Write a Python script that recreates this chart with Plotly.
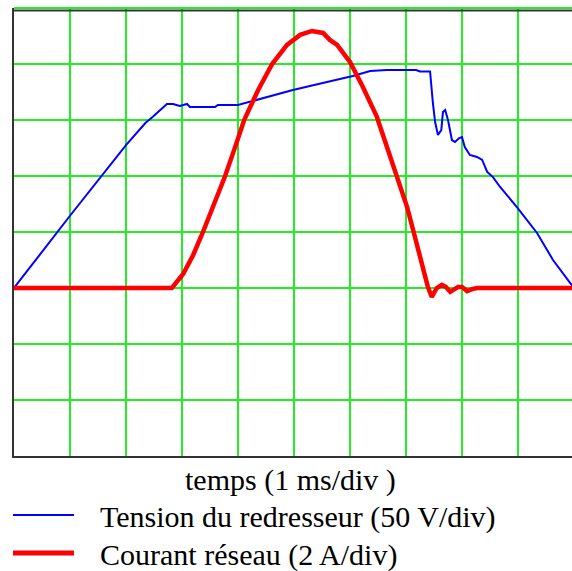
import plotly.graph_objects as go

# Rectifier output voltage (V) vs time (ms)
t_tension = [0.0, 1.0, 2.0, 2.35, 2.48, 2.61, 2.73, 2.84, 2.96, 3.09, 3.14, 3.59,
             3.64, 4.0, 4.39, 4.98, 5.59, 6.05, 6.36, 6.66, 7.18, 7.25, 7.43, 7.45, 7.48,
             7.52, 7.57, 7.63, 7.66, 7.70, 7.75, 7.82, 7.875, 7.95, 8.0, 8.05, 8.14, 8.27,
             8.36, 8.45, 8.55, 8.68, 8.98, 9.34, 9.625, 9.93, 10.0]
tension = [0.0, 64.5, 127.5, 147.5, 153.0, 158.5, 164.3, 164.3, 162.5, 164.3, 161.6,
           161.6, 163.4, 163.4, 168.8, 176.8, 183.9, 189.3, 193.8, 194.6, 194.6, 193.3,
           193.3, 181.3, 165.2, 148.2, 136.6, 141.0, 157.1, 158.9, 150.0, 132.1, 130.4,
           133.9, 134.8, 125.9, 118.8, 117.0, 114.3, 103.6, 99.1, 90.2, 72.3, 49.1, 25.0,
           4.5, 0.0]

# Mains current (A) vs time (ms)
t_courant = [0.0, 2.82, 3.02, 3.20, 3.375, 3.57, 3.77, 3.95, 4.11, 4.36, 4.61, 4.875, 5.11,
             5.32, 5.52, 5.64, 5.77, 6.0, 6.23, 6.48, 6.68, 6.86, 7.02, 7.16, 7.29, 7.39,
             7.46, 7.55, 7.64, 7.71, 7.79, 7.86, 7.93, 8.0, 8.09, 8.18, 8.27, 10.0]
courant = [0.0, 0.0, 0.5, 1.18, 2.0, 3.0, 4.0, 5.04, 6.0, 7.07, 8.0, 8.68, 9.04, 9.18,
           9.11, 8.86, 8.68, 8.07, 7.18, 6.11, 4.93, 3.86, 2.89, 1.82, 0.75, 0.04, -0.32,
           0.0, 0.11, 0.04, -0.14, -0.07, 0.04, 0.04, -0.11, -0.04, 0.0, 0.0]

# Scope settings
MS_PER_DIV = 1
V_PER_DIV = 50
A_PER_DIV = 2

legend_labels = ["Tension du redresseur (50 V/div)", "Courant réseau (2 A/div)"]
axis_label = "temps (1 ms/div )"

W, H = 572, 571
L, T = 14, 8
PLOT_H = 448
B = H - T - PLOT_H
DIV_PX = 56
x_max = (W - L) / DIV_PX * MS_PER_DIV

GRID = "#22ee22"
FRAME = "#333333"
FONT = "Liberation Serif, Times New Roman, serif"
FONT_SIZE = 30

fig = go.Figure()
fig.add_trace(go.Scatter(x=t_tension, y=tension, mode="lines",
                         line=dict(color="#0000ff", width=2), yaxis="y"))
fig.add_trace(go.Scatter(x=t_courant, y=courant, mode="lines",
                         line=dict(color="#ff0000", width=4.5), yaxis="y2"))

fig.update_layout(
    width=W, height=H,
    margin=dict(l=L, r=0, t=T, b=B),
    paper_bgcolor="white", plot_bgcolor="white",
    showlegend=False,
    xaxis=dict(range=[0, x_max], dtick=MS_PER_DIV, showticklabels=False, ticks="",
               showgrid=True, gridcolor=GRID, gridwidth=2, zeroline=False,
               showline=True, linecolor=FRAME, linewidth=2),
    yaxis=dict(range=[-3 * V_PER_DIV, 5 * V_PER_DIV], dtick=V_PER_DIV,
               showticklabels=False, ticks="", showgrid=True, gridcolor=GRID,
               gridwidth=2, zeroline=False, showline=True, linecolor=FRAME,
               linewidth=2),
    yaxis2=dict(range=[-3 * A_PER_DIV, 5 * A_PER_DIV], overlaying="y",
                showticklabels=False, ticks="", showgrid=False, zeroline=False),
)

def py(p):
    return (T + PLOT_H - p) / PLOT_H

def px(p):
    return (p - L) / (W - L)

# top edge of the screen: green graticule line with the dark frame just below it
fig.add_shape(type="line", xref="paper", yref="paper", x0=0, x1=1, y0=py(8), y1=py(8),
              line=dict(color=GRID, width=2), layer="below")
fig.add_shape(type="line", xref="paper", yref="paper", x0=px(13), x1=1,
              y0=py(10.5), y1=py(10.5), line=dict(color=FRAME, width=2))

fig.add_annotation(text=axis_label, x=px(290), y=py(480), xref="paper", yref="paper",
                   showarrow=False, xanchor="center", yanchor="middle",
                   font=dict(family=FONT, size=FONT_SIZE, color="black"))

for label, color, width, ypix in [(legend_labels[0], "#0000ff", 2, 515),
                                  (legend_labels[1], "#ff0000", 5, 553)]:
    fig.add_shape(type="line", xref="paper", yref="paper",
                  x0=px(13), x1=px(74), y0=py(ypix), y1=py(ypix),
                  line=dict(color=color, width=width))
    fig.add_annotation(text=label, x=px(98), y=py(ypix + 2), xref="paper", yref="paper",
                       showarrow=False, xanchor="left", yanchor="middle",
                       font=dict(family=FONT, size=FONT_SIZE, color="black"))

fig.write_html("out.html")
